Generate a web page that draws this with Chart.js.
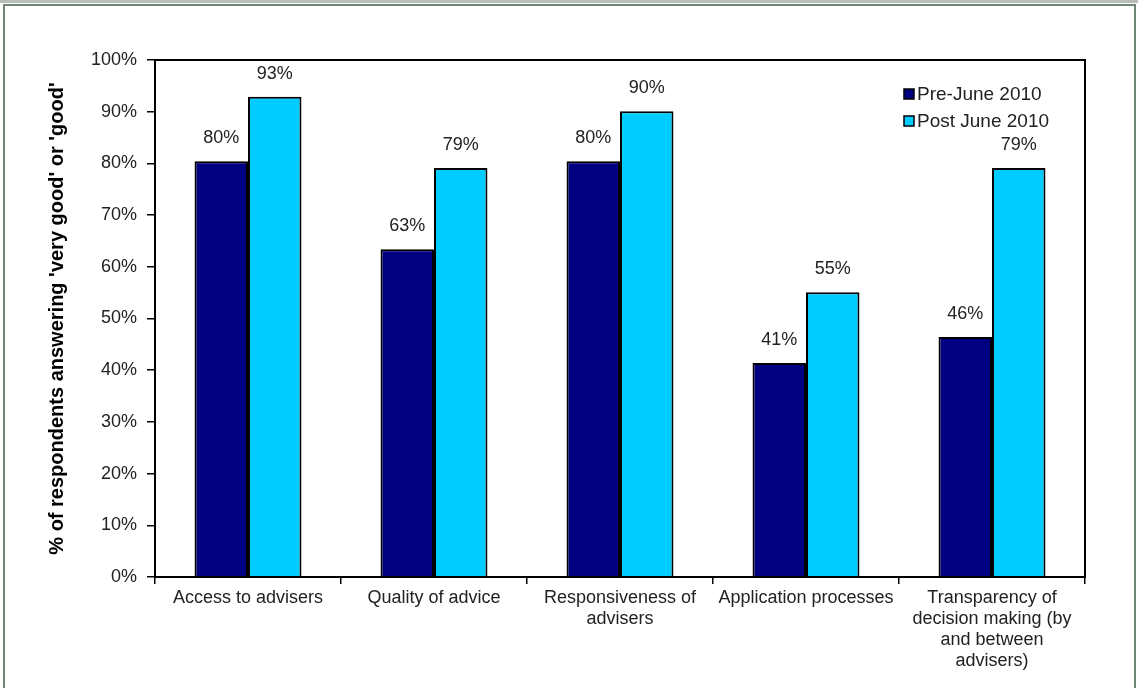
<!DOCTYPE html>
<html>
<head>
<meta charset="utf-8">
<script src="https://cdn.jsdelivr.net/npm/chart.js@4.4.1/dist/chart.umd.min.js"></script>
<style>
	body { margin: 0; background: #fff; }
	#wrap { position: relative; width: 1138px; height: 688px; overflow: hidden; }
	#topStrip { position: absolute; left: 0; top: 0; width: 1138px; height: 3px; background: #b8bdb9; }
	#frame { position: absolute; left: 3px; top: 4px; width: 1129px; height: 700px; border: 2px solid #6f8576; }
	canvas { position: absolute; left: 0; top: 0; }
</style>
</head>
<body>
<div id="wrap">
	<div id="topStrip"></div>
	<div id="frame"></div>
	<canvas id="bieuDo" width="1138" height="688"></canvas>
</div>
<script>
// Du lieu bieu do
var categories = [
	"Access to advisers",
	"Quality of advice",
	["Responsiveness of", "advisers"],
	"Application processes",
	["Transparency of", "decision making (by", "and between", "advisers)"]
]
var preJune = [80.4, 63.4, 80.4, 41.4, 46.4]
var postJune = [92.9, 79.1, 90.1, 55.1, 79.1]
var seriesNames = ["Pre-June 2010", "Post June 2010"]
var yTicks = [0, 10, 20, 30, 40, 50, 60, 70, 80, 90, 100]

var fontName = "'Liberation Sans', Arial, sans-serif"
var textColor = "#222"

// Ve nhan gia tri tren dau cot
var valueLabels = {
	id: 'valueLabels',
	afterDatasetsDraw(chart) {
		var ctx = chart.ctx
		ctx.save()
		ctx.font = "18px " + fontName
		ctx.fillStyle = textColor
		ctx.textAlign = "center"
		ctx.textBaseline = "middle"
		chart.data.datasets.forEach((ds, i) => {
			chart.getDatasetMeta(i).data.forEach((bar, j) => {
				ctx.fillText(Math.round(ds.data[j]) + "%", bar.x, bar.y - 23)
			})
		})
		ctx.restore()
	}
}

// Khung vien vung ve + chu giai
var plotFrame = {
	id: 'plotFrame',
	afterDraw(chart) {
		var ctx = chart.ctx
		var a = chart.chartArea
		ctx.save()
		ctx.strokeStyle = "#000"
		ctx.lineWidth = 2
		ctx.strokeRect(a.left, a.top, a.right - a.left, a.bottom - a.top)
		// chu giai
		ctx.font = "19px " + fontName
		ctx.textBaseline = "middle"
		ctx.textAlign = "left"
		chart.data.datasets.forEach((ds, i) => {
			var y = 94 + i * 27
			ctx.fillStyle = ds.backgroundColor
			ctx.fillRect(904, y - 5, 10, 10)
			ctx.lineWidth = 1.5
			ctx.strokeStyle = "#000"
			ctx.strokeRect(904, y - 5, 10, 10)
			ctx.fillStyle = textColor
			ctx.fillText(ds.label, 917, y + 1)
		})
		ctx.restore()
	}
}

var ctx = document.getElementById("bieuDo").getContext("2d")
new Chart(ctx, {
	type: "bar",
	data: {
		labels: categories,
		datasets: [{
			label: seriesNames[0],
			data: preJune,
			backgroundColor: "#000080",
			borderColor: "#000",
			borderWidth: 2,
			borderSkipped: "bottom"
		}, {
			label: seriesNames[1],
			data: postJune,
			backgroundColor: "#00CCFF",
			borderColor: "#000",
			borderWidth: 2,
			borderSkipped: "bottom"
		}]
	},
	options: {
		responsive: false,
		animation: false,
		layout: { padding: { left: 0, top: 60, right: 53, bottom: 0 } },
		datasets: { bar: { categoryPercentage: 0.575, barPercentage: 1 } },
		plugins: {
			legend: { display: false },
			tooltip: { enabled: false }
		},
		scales: {
			x: {
				grid: { offset: true, drawOnChartArea: false, color: "#000", lineWidth: 1.5, tickLength: 7 },
				border: { color: "#000", width: 2 },
				ticks: { color: textColor, font: { family: fontName, size: 18, lineHeight: 1.16 }, padding: 4, maxRotation: 0, autoSkip: false },
				afterFit: scale => { scale.height = 688 - 577 }
			},
			y: {
				min: 0,
				max: 100,
				afterBuildTicks: scale => { scale.ticks = yTicks.map(v => ({ value: v })) },
				grid: { drawOnChartArea: false, color: "#000", lineWidth: 1.5, tickLength: 8 },
				border: { color: "#000", width: 2 },
				ticks: { color: textColor, font: { family: fontName, size: 18 }, padding: 10, callback: v => v + "%" },
				title: {
					display: true,
					text: "% of respondents answering 'very good' or 'good'",
					color: "#000",
					font: { family: fontName, size: 20, weight: "bold" },
					padding: { top: 45, bottom: 8 }
				},
				afterFit: scale => { scale.width = 155 }
			}
		}
	},
	plugins: [valueLabels, plotFrame]
})
</script>
</body>
</html>
